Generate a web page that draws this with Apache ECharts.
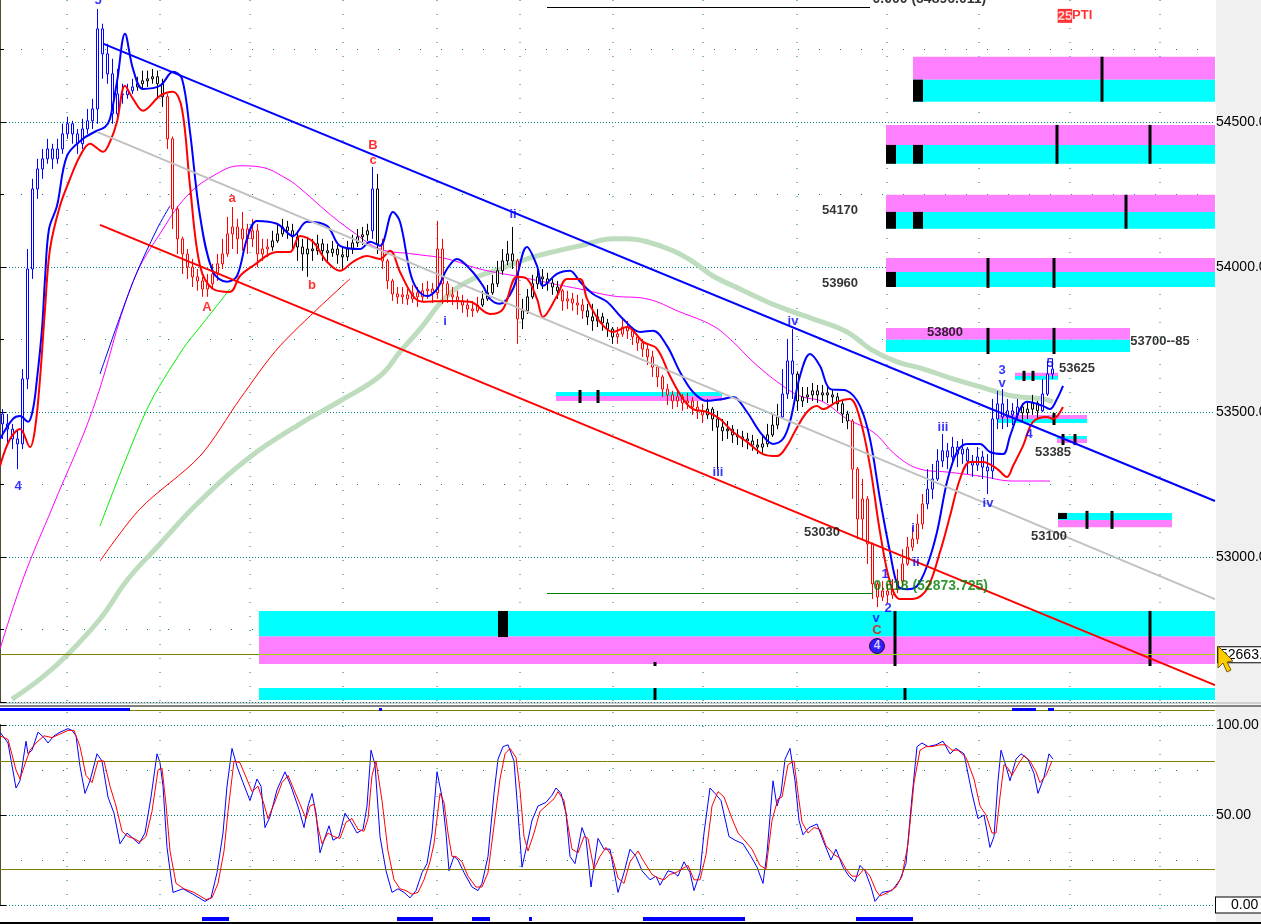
<!DOCTYPE html>
<html>
<head>
<meta charset="utf-8">
<script src="https://cdn.jsdelivr.net/npm/echarts/dist/echarts.min.js"></script>
<style>
html,body{margin:0;padding:0;background:#fff;overflow:hidden}
#main{width:1261px;height:924px}
</style>
</head>
<body>
<div id="main"></div>
<script>
// 5 minute bars: [open, close, low, high]
var bars = [
[53493,53459,53407,53510],[53459,53441,53390,53493],[53441,53407,53372,53459],[53407,53390,53303,53441],
[53390,53614,53372,53648],[53614,53993,53579,54062],[53993,54269,53959,54304],[54269,54338,54235,54373],
[54338,54373,54304,54407],[54373,54407,54356,54442],[54407,54373,54338,54425],[54373,54407,54356,54442],
[54407,54459,54390,54494],[54459,54494,54442,54518],[54494,54459,54425,54504],[54459,54425,54390,54476],
[54425,54476,54407,54511],[54476,54504,54459,54545],[54504,54545,54476,54580],[54545,54821,54494,54890],
[54821,54735,54649,54839],[54735,54666,54632,54770],[54666,54528,54494,54718],[54528,54597,54511,54683],
[54597,54594,54563,54632],[54594,54608,54580,54632],[54608,54621,54597,54649],[54621,54632,54608,54656],
[54632,54642,54614,54677],[54642,54649,54621,54677],[54649,54656,54632,54683],[54656,54632,54580,54677],
[54632,54587,54552,54649],[54587,54442,54407,54597],[54442,54200,54131,54450],[54200,54097,54045,54210],
[54097,54045,53976,54105],[54045,54000,53959,54062],[54000,53966,53931,54028],[53966,53952,53918,53993],
[53952,53924,53897,53966],[53924,53942,53897,53976],[53942,53976,53924,54011],[53976,54011,53952,54045],
[54011,54045,53993,54097],[54045,54114,54035,54173],[54114,54138,54062,54207],[54138,54097,54045,54166],
[54097,54131,54056,54190],[54131,54097,54045,54149],[54097,54125,54069,54166],[54125,54045,54000,54149],
[54045,54062,54021,54097],[54062,54069,54035,54097],[54069,54090,54056,54125],[54090,54114,54083,54145],
[54114,54138,54104,54166],[54138,54125,54097,54159],[54125,54104,54056,54149],[54104,54069,54021,54125],
[54069,54045,53987,54097],[54045,54062,53966,54104],[54062,54056,54021,54097],[54056,54080,54042,54111],
[54080,54056,54021,54097],[54056,54049,54021,54080],[54049,54062,54035,54090],[54062,54042,54011,54076],
[54042,54035,53993,54069],[54035,54062,54021,54090],[54062,54083,54045,54111],[54083,54104,54069,54131],
[54104,54111,54076,54138],[54111,54125,54090,54149],[54125,54269,54097,54345],[54269,54080,54045,54321],
[54080,54021,53993,54097],[54021,53952,53924,54028],[53952,53907,53883,53959],[53907,53897,53873,53931],
[53897,53904,53873,53931],[53904,53890,53869,53924],[53890,53911,53876,53938],[53911,53897,53862,53931],
[53897,53918,53883,53945],[53918,53924,53890,53952],[53924,53911,53876,53945],[53911,54062,53890,54159],
[54062,53942,53873,54097],[53942,53904,53876,53952],[53904,53897,53869,53931],[53897,53883,53855,53918],
[53883,53869,53842,53904],[53869,53855,53828,53890],[53855,53849,53828,53883],[53849,53869,53842,53897],
[53869,53890,53862,53918],[53890,53911,53883,53938],[53911,53942,53904,53973],[53942,53987,53931,54021],
[53987,54021,53973,54062],[54021,54045,54007,54090],[54045,54021,53993,54138],[54021,53821,53735,54028],
[53821,53849,53786,53890],[53849,53897,53838,53924],[53897,53942,53890,53973],[53942,53966,53924,54000],
[53966,53959,53924,53993],[53959,53945,53918,53980],[53945,53931,53904,53959],[53931,53918,53890,53952],
[53918,53883,53849,53924],[53883,53890,53855,53918],[53890,53876,53849,53911],[53876,53869,53835,53904],
[53869,53849,53821,53890],[53849,53828,53800,53873],[53828,53814,53780,53873],[53814,53828,53793,53855],
[53828,53807,53780,53842],[53807,53786,53759,53821],[53786,53759,53735,53793],[53759,53769,53735,53793],
[53769,53793,53759,53821],[53793,53780,53752,53814],[53780,53759,53731,53793],[53759,53738,53711,53766],
[53738,53717,53690,53752],[53717,53690,53662,53731],[53690,53655,53621,53711],[53655,53621,53586,53662],
[53621,53579,53552,53628],[53579,53559,53524,53597],[53559,53538,53510,53573],[53538,53552,53517,53579],
[53552,53531,53504,53562],[53531,53538,53510,53566],[53538,53517,53490,53552],[53517,53504,53476,53538],
[53504,53490,53462,53528],[53490,53510,53476,53545],[53510,53476,53435,53517],[53476,53448,53303,53504],
[53448,53435,53400,53476],[53435,53441,53407,53469],[53441,53421,53393,53455],[53421,53414,53386,53441],
[53414,53407,53379,53435],[53407,53400,53372,53428],[53400,53386,53366,53421],[53386,53379,53355,53407],
[53379,53390,53359,53421],[53390,53421,53379,53459],[53421,53455,53414,53493],[53455,53483,53441,53528],
[53483,53562,53476,53648],[53562,53676,53545,53752],[53676,53631,53545,53786],[53631,53538,53504,53640],
[53538,53552,53517,53586],[53552,53559,53531,53586],[53559,53573,53538,53600],[53573,53559,53531,53593],
[53559,53566,53538,53593],[53566,53559,53531,53586],[53559,53552,53524,53579],[53552,53528,53504,53566],
[53528,53493,53462,53538],[53493,53469,53441,53504],[53469,53303,53200,53476],[53303,53131,53062,53310],
[53131,53200,53062,53269],[53200,53045,52976,53210],[53045,52907,52855,53050],[52907,52862,52827,52915],
[52862,52883,52848,52917],[52883,52869,52841,52907],[52869,52889,52855,52924],[52889,52917,52876,52958],
[52917,52976,52896,53027],[52976,53034,52970,53069],[53034,53062,53021,53103],[53062,53114,53045,53148],
[53114,53183,53096,53217],[53183,53234,53165,53303],[53234,53269,53200,53321],[53269,53331,53262,53372],
[53331,53366,53310,53424],[53366,53345,53303,53393],[53345,53379,53317,53414],[53379,53355,53310,53400],
[53355,53372,53321,53407],[53372,53331,53286,53379],[53331,53317,53276,53352],[53317,53345,53297,53379],
[53345,53310,53269,53366],[53310,53297,53217,53355],[53297,53476,53269,53545],[53476,53528,53441,53573],
[53528,53483,53441,53579],[53483,53504,53448,53545],[53504,53490,53455,53531],[53490,53517,53476,53545],
[53517,53497,53469,53531],[53497,53510,53476,53538],[53510,53531,53490,53559],[53531,53504,53476,53538],
[53504,53562,53500,53614],[53562,53631,53555,53676],[53631,53648,53614,53683]
];
// trend state per bar range [from, to, state]
var trendRuns = [
[0,26,'up'],[27,32,'flat'],[33,53,'down'],[54,73,'flat'],[74,74,'up'],[75,75,'flat'],
[76,95,'down'],[96,102,'flat'],[103,103,'down'],[104,111,'flat'],[112,116,'down'],[117,122,'flat'],
[123,140,'down'],[141,155,'flat'],[156,158,'up'],[159,169,'flat'],[170,184,'down'],[185,203,'up'],
[204,207,'flat'],[208,210,'up']
];
var sessionMinutes = 1215;
var barMinutes = 5;

// overlays: [minute, price]
var upperBand = [[0,53407],[13,53476],[20,53486],[28,53466],[33,53510],[37,53614],[42,53786],[45,53959],[49,54131],
[57,54211],[67,54383],[83,54442],[97,54470],[105,54483],[110,54511],[117,54639],[125,54804],[133,54683],[143,54614],
[160,54625],[173,54673],[182,54649],[190,54466],[200,54176],[213,53983],[227,53949],[237,53969],[247,54097],[257,54159],
[277,54149],[293,54107],[307,54156],[327,54142],[340,54073],[360,54062],[370,54087],[380,54073],[393,54190],[400,54156],
[410,53983],[417,53924],[427,53900],[437,53924],[447,53993],[457,54028],[470,53993],[483,53935],[490,53890],[500,53873],
[513,53924],[527,54069],[537,54004],[543,53935],[557,53976],[570,53987],[580,53949],[593,53907],[607,53880],[623,53821],
[640,53776],[653,53780],[667,53728],[680,53638],[693,53569],[707,53538],[723,53545],[733,53552],[747,53500],[760,53431],
[773,53390],[783,53407],[790,53466],[800,53624],[810,53700],[820,53659],[830,53580],[847,53573],[860,53521],[870,53407],
[880,53200],[890,53017],[898,52900],[907,52889],[917,52900],[927,52969],[937,53086],[947,53259],[957,53362],[967,53390],
[980,53390],[990,53362],[1003,53355],[1010,53417],[1020,53510],[1027,53535],[1043,53521],[1050,53510],[1057,53545],[1063,53590]];
var lowerBand = [[0,53314],[10,53407],[20,53441],[30,53379],[35,53441],[40,53614],[45,53855],[50,54062],[60,54211],
[70,54304],[80,54383],[90,54425],[103,54397],[110,54432],[117,54501],[125,54625],[133,54580],[143,54539],[160,54590],
[173,54604],[182,54545],[190,54280],[200,54004],[213,53924],[230,53914],[240,53969],[253,54004],[277,54052],[290,54052],
[300,54107],[313,54087],[327,54018],[340,53987],[353,54018],[367,54038],[380,54028],[390,54056],[400,53983],[413,53900],
[423,53880],[447,53883],[470,53880],[490,53838],[503,53855],[517,53966],[527,53959],[537,53890],[543,53828],[557,53900],
[567,53959],[580,53959],[587,53890],[600,53811],[613,53776],[627,53793],[643,53742],[657,53718],[670,53624],[683,53545],
[693,53510],[707,53500],[720,53476],[733,53431],[747,53397],[763,53355],[777,53348],[787,53383],[795,53434],[807,53500],
[817,53521],[823,53510],[837,53535],[850,53545],[860,53476],[870,53314],[880,53086],[890,52914],[900,52855],[913,52855],
[927,52890],[940,53017],[950,53141],[960,53269],[970,53328],[983,53328],[997,53304],[1007,53276],[1013,53314],[1023,53383],
[1033,53466],[1047,53483],[1053,53476],[1063,53517]];
var maMid = [[0,52683],[23,52924],[53,53176],[93,53511],[133,53949],[163,54131],[187,54245],[213,54314],[240,54349],
[260,54345],[287,54304],[303,54263],[327,54190],[353,54121],[380,54062],[413,54045],[447,54028],[480,53993],[520,53966],
[553,53942],[580,53924],[613,53900],[647,53890],[680,53845],[713,53797],[733,53742],[753,53673],[780,53597],[800,53555],
[823,53535],[847,53476],[873,53431],[897,53348],[920,53303],[947,53293],[980,53279],[1013,53262],[1050,53262]];
var maSlow = [[12,52510],[40,52579],[68,52665],[100,52786],[128,52924],[160,53045],[197,53183],[250,53345],[300,53459],
[340,53538],[380,53624],[400,53707],[420,53786],[447,53900],[473,53959],[500,53993],[527,54028],[553,54052],[580,54073],
[613,54097],[627,54097],[647,54087],[673,54056],[693,54018],[713,53969],[740,53924],[767,53880],[793,53845],[813,53821],
[847,53776],[870,53718],[897,53673],[923,53649],[953,53614],[987,53580],[1013,53555],[1043,53545],[1053,53535]];
var riseBlue = [[100,53631],[133,53949],[157,54131],[170,54211]];
var riseGreen = [[100,53107],[147,53510],[183,53718],[200,53793],[230,53924]];
var riseRed = [[100,52986],[140,53166],[200,53348],[240,53545],[280,53728],[350,53959]];
var channelTop = [[103,54770],[1215,53193]];
var channelMid = [[97,54466],[1215,52855]];
var channelBottom = [[100,54145],[1215,52558]];

// zones: [from, to, magentaTop, magentaBottom, cyanTop, cyanBottom]
var zones = [
[913,1215,54725,54646,54646,54570],[886,1215,54490,54421,54421,54356],[886,1215,54249,54190,54190,54132],
[886,1215,54031,53983,53983,53931],[886,1130,53790,53749,53749,53707],[1015,1058,53635,53624,53624,53611],
[998,1087,53490,53476,53476,53462],[1057,1087,53407,53393,53417,53407],[1058,1172,53128,53103,53152,53128],
[556,722,53555,53538,53569,53555],[259,1215,52727,52631,52814,52727],[259,1215,null,null,52548,52507]
];
var zoneBlocks = [[913,923,54646,54570],[886,896,54421,54356],[913,923,54421,54356],[886,896,54190,54132],
[913,923,54190,54132],[886,896,53983,53931],[1058,1067,53152,53131],[498,508,52814,52724]];
var zoneTicks = [[1102,54725,54570],[1057,54490,54356],[1150,54490,54356],[1126,54249,54132],[988,54031,53928],
[1054,54031,53928],[988,53790,53700],[1054,53790,53700],[1024,53642,53607],[1033,53642,53607],[1054,53497,53455],
[1063,53424,53386],[1075,53424,53386],[1087,53159,53097],[1112,53159,53097],[580,53576,53531],[598,53576,53531],
[895,52814,52624],[1150,52814,52624],[655,52638,52624],[655,52548,52507],[905,52548,52507]];
var lastPrice = 52663;
var fibTop = {from:547, to:870, price:54896.011, text:'0.000 (54896.011)'};
var fibMid = {from:547, to:873, price:52873.725, text:'0.618 (52873.725)'};

// wave counts [minute, price, text, degree]
var waveLabels = [[98,54918,'5','minor'],[18,53245,'4','minor'],[207,53862,'A','major'],[232,54235,'a','major'],
[312,53935,'b','major'],[373,54418,'B','major'],[373,54366,'c','major'],[445,53811,'i','minor'],[513,54183,'ii','minor'],
[718,53290,'iii','minor'],[793,53811,'iv','minor'],[876,52789,'v','minor'],[877,52748,'C','major'],[888,52821,'2','minor'],
[885,52941,'1','minor'],[913,53097,'i','minor'],[916,52983,'ii','minor'],[943,53448,'iii','minor'],[988,53186,'iv','minor'],
[1002,53645,'3','minor'],[1002,53600,'v','minor'],[1029,53421,'4','minor'],[1050,53669,'5','minor']];
var wave4Circle = [877,52693];
var levelNotes = [[840,54194,'54170'],[840,53942,'53960'],[945,53776,'53800'],[1160,53745,'53700--85'],
[1077,53649,'53625'],[1053,53359,'53385'],[822,53086,'53030'],[1049,53072,'53100']];
var ptiNote = [1075,54866];

// stochastic [minute, value]
var stochK = [[0,96],[8,90],[16,65],[20,69],[26,91],[28,84],[32,86],[38,96],[44,93],[48,90],[54,94],[60,96],[68,98],[72,97],
[76,94],[80,77],[85,62],[90,69],[97,84],[102,80],[108,60],[114,51],[120,34],[127,40],[133,37],[139,34],[145,40],[151,60],
[157,84],[160,79],[163,66],[167,32],[173,7],[183,9],[193,6],[205,2],[211,4],[217,18],[223,40],[227,66],[232,87],[237,77],
[243,68],[250,58],[257,70],[261,66],[265,43],[270,49],[277,64],[285,74],[291,66],[299,53],[304,43],[308,55],[312,62],
[316,51],[320,29],[324,36],[329,44],[333,36],[339,38],[345,51],[351,46],[357,40],[363,42],[367,55],[371,86],[375,78],
[380,38],[386,19],[392,7],[398,9],[404,7],[410,4],[416,8],[422,18],[427,23],[432,40],[437,74],[442,60],[446,40],[449,19],
[454,27],[458,25],[464,18],[472,10],[478,8],[482,12],[488,27],[494,62],[498,81],[503,88],[508,89],[514,80],[518,51],
[522,21],[526,31],[532,47],[538,55],[546,57],[552,61],[556,65],[561,62],[566,51],[570,27],[575,23],[582,43],[586,37],
[591,10],[598,37],[604,31],[610,31],[614,19],[618,7],[624,18],[630,31],[636,27],[642,19],[650,14],[656,16],[660,11],
[668,19],[674,18],[678,16],[684,24],[690,18],[694,8],[700,18],[704,40],[710,65],[715,62],[721,58],[729,38],[735,36],
[743,34],[751,27],[757,21],[763,12],[767,29],[773,69],[777,55],[781,62],[785,81],[790,87],[795,69],[799,47],[803,39],
[809,43],[817,45],[823,36],[831,25],[836,31],[843,21],[849,16],[855,13],[860,22],[865,19],[871,10],[875,2],[882,7],
[892,8],[900,14],[906,23],[912,60],[917,88],[922,90],[928,88],[936,89],[943,91],[950,84],[956,87],[964,84],[972,62],
[978,48],[984,50],[990,32],[994,38],[998,69],[1001,86],[1006,77],[1010,69],[1016,81],[1021,84],[1028,81],[1034,73],
[1038,62],[1044,71],[1049,84],[1053,81]];
var stochD = [[0,94],[8,92],[16,75],[20,70],[26,80],[30,86],[36,90],[44,94],[52,93],[60,95],[68,97],[74,97],[80,88],
[86,72],[92,68],[98,80],[104,80],[110,66],[116,55],[122,41],[128,38],[134,37],[140,35],[146,38],[152,52],[158,75],
[162,76],[166,56],[170,30],[176,12],[184,9],[194,7],[206,3],[212,4],[218,12],[224,30],[228,52],[234,80],[240,79],
[246,71],[252,63],[258,66],[264,56],[268,48],[274,56],[282,68],[288,72],[294,64],[300,56],[306,48],[310,55],[314,56],
[318,43],[322,34],[328,40],[334,38],[340,37],[346,46],[352,48],[358,42],[364,41],[368,48],[372,72],[376,80],[382,58],
[388,30],[394,14],[400,9],[406,8],[412,6],[418,7],[424,14],[430,24],[434,34],[440,62],[444,57],[448,40],[452,27],
[456,27],[462,24],[468,16],[476,10],[482,10],[488,18],[494,44],[500,70],[505,84],[510,87],[516,82],[520,64],[524,38],
[528,30],[534,40],[540,52],[548,56],[554,59],[558,63],[564,58],[568,44],[572,31],[578,29],[584,38],[588,37],[594,20],
[600,27],[606,32],[612,27],[618,15],[624,12],[630,24],[638,30],[644,24],[652,17],[658,15],[664,14],[670,17],[676,18],
[682,20],[688,22],[694,14],[700,14],[706,28],[712,55],[718,63],[724,60],[732,48],[738,40],[746,35],[752,31],[760,22],
[766,20],[772,47],[778,59],[782,60],[788,78],[794,80],[798,62],[802,46],[808,40],[814,43],[820,42],[826,33],[834,28],
[840,26],[846,20],[852,16],[858,16],[864,20],[870,16],[876,8],[880,5],[888,7],[896,10],[902,16],[908,34],[914,68],
[920,86],[926,88],[932,88],[940,89],[946,89],[952,86],[958,86],[966,82],[974,70],[980,55],[986,50],[992,40],[996,40],
[1000,60],[1004,78],[1008,76],[1012,72],[1018,78],[1024,83],[1030,80],[1036,74],[1040,68],[1046,72],[1052,80]];
var stochLevels = [20, 80];
// signal strips [from, to, row] row 0 = above oscillator, 1 = below
var signals = [[0,130,0],[379,382,0],[1012,1036,0],[1048,1054,0],
[202,229,1],[397,433,1],[472,490,1],[529,532,1],[643,745,1],[856,913,1]];
var timeGrid = [67,160,250,343,437,520,613,703,797,887,979,1070,1160];

var BLUE = '#0000ff', RED = '#ff0000', MAG = '#ff80ff', CYAN = '#00ffff', TEAL = '#008080';
var trendColor = {up: BLUE, down: RED, flat: '#000000'};

function stateOf(i) {
  for (var k = 0; k < trendRuns.length; k++) {
    if (i >= trendRuns[k][0] && i <= trendRuns[k][1]) return trendRuns[k][2];
  }
  return 'flat';
}
var slots = [];
for (var s = 0; s < sessionMinutes / barMinutes; s++) slots.push(String(s));
var candleData = bars.map(function (b, i) {
  var c = trendColor[stateOf(i)];
  return {value: b, itemStyle: {color: '#ffffff', color0: c, borderColor: c, borderColor0: c}};
});

var zoneData = [];
zones.forEach(function (z) {
  if (z[2] != null) zoneData.push({value: [z[0], z[1], z[2], z[3]], itemStyle: {color: MAG}});
  if (z[4] != null) zoneData.push({value: [z[0], z[1], z[4], z[5]], itemStyle: {color: CYAN}});
});
zoneBlocks.forEach(function (b) { zoneData.push({value: b, itemStyle: {color: '#000'}}); });

function boxItem(params, api) {
  var a = api.coord([api.value(0), api.value(2)]);
  var b = api.coord([api.value(1), api.value(3)]);
  return {type: 'rect', shape: {x: a[0], y: a[1], width: b[0] - a[0], height: b[1] - a[1]},
    style: {fill: api.visual('color')}};
}
function tickItem(params, api) {
  var a = api.coord([api.value(0), api.value(1)]);
  var b = api.coord([api.value(0), api.value(2)]);
  return {type: 'rect', shape: {x: a[0] - 1.5, y: a[1], width: 3, height: b[1] - a[1]}, style: {fill: '#000'}};
}
function gridColumn(top, bottom) {
  return function (params, api) {
    var cs = params.coordSys;
    var x = api.coord([api.value(0), 0])[0];
    return {type: 'line', shape: {x1: x, y1: top, x2: x, y2: bottom},
      style: {stroke: TEAL, lineWidth: 1, lineDash: [1, 13]}};
  };
}
function signalItem(params, api) {
  var cs = params.coordSys;
  var a = api.coord([api.value(0), 0]);
  var b = api.coord([api.value(1), 0]);
  var row = api.value(2);
  var y = row === 0 ? cs.y - 17 : cs.y + cs.height + 12;
  return {type: 'rect', shape: {x: a[0], y: y, width: Math.max(b[0] - a[0], 2), height: row === 0 ? 3 : 4},
    style: {fill: BLUE}};
}
function lineSeries(data, color, width, z, smooth) {
  return {type: 'line', xAxisIndex: 1, yAxisIndex: 0, data: data, showSymbol: false, symbol: 'none',
    smooth: smooth, z: z, silent: true, lineStyle: {color: color, width: width}};
}

var waveData = waveLabels.map(function (w) {
  return {value: [w[0], w[1]], name: w[2],
    label: {color: w[3] === 'major' ? RED : BLUE}};
});
var noteData = levelNotes.map(function (n) { return {value: [n[0], n[1]], name: n[2]}; });

var chart = echarts.init(document.getElementById('main'));
chart.setOption({
  animation: false,
  backgroundColor: '#ffffff',
  textStyle: {fontFamily: 'Arial'},
  grid: [
    {left: 0, right: 46, top: -23, height: 725, containLabel: false, outerBoundsMode: 'none'},
    {left: 0, right: 46, top: 725, height: 180, containLabel: false, outerBoundsMode: 'none'}
  ],
  xAxis: [
    {type: 'category', gridIndex: 0, data: slots, show: false, boundaryGap: true},
    {type: 'value', gridIndex: 0, min: 0, max: sessionMinutes, show: false},
    {type: 'value', gridIndex: 1, min: 0, max: sessionMinutes, show: false}
  ],
  yAxis: [
    {type: 'value', gridIndex: 0, position: 'right', min: 52500, max: 55000, interval: 500,
      axisLine: {show: true, lineStyle: {color: '#4d4d33', width: 2}},
      axisTick: {show: true, length: 6, lineStyle: {color: '#000'}},
      minorTick: {show: true, splitNumber: 2, length: 4, lineStyle: {color: '#000'}},
      axisLabel: {color: '#000', fontSize: 14, margin: 1, showMinLabel: false, showMaxLabel: false,
        formatter: function (v) { return v.toFixed(2); }},
      splitLine: {show: true, lineStyle: {color: TEAL, type: [1, 2], width: 1}},
      minorSplitLine: {show: true, lineStyle: {color: TEAL, type: [1, 20], width: 1}}},
    {type: 'value', gridIndex: 1, position: 'right', min: 0, max: 100, interval: 50,
      axisLine: {show: true, lineStyle: {color: '#4d4d33', width: 2}},
      axisTick: {show: true, length: 6, lineStyle: {color: '#000'}},
      axisLabel: {color: '#000', fontSize: 14, margin: 1,
        formatter: function (v) { return v === 0 ? '{box|0.00}' : v.toFixed(2); },
        rich: {box: {fontSize: 14, color: '#000', backgroundColor: '#ffffff', borderColor: '#000', borderWidth: 1,
          padding: [1, 12, 0, 15]}}},
      splitLine: {show: true, lineStyle: {color: TEAL, type: [1, 2], width: 1}},
      minorTick: {show: false, splitNumber: 2},
      minorSplitLine: {show: true, lineStyle: {color: TEAL, type: [1, 20], width: 1}}}
  ],
  graphic: {elements: [
    {type: 'rect', z: -1, shape: {x: 1216, y: 0, width: 45, height: 924}, style: {fill: '#f0f0f0'}},
    {type: 'rect', shape: {x: 0, y: 702, width: 1261, height: 2}, style: {fill: '#d0d0d0'}},
    {type: 'rect', shape: {x: 0, y: 705, width: 1261, height: 2}, style: {fill: '#808080'}},
    {type: 'rect', shape: {x: 0, y: 710, width: 1215, height: 1}, style: {fill: '#808000'}},
    {type: 'rect', shape: {x: 0, y: 922, width: 1261, height: 2}, style: {fill: '#000'}},
    {type: 'polygon', z: 100, shape: {points: [[1218, 646], [1218, 668], [1223, 663], [1227, 672], [1231, 670],
      [1227, 662], [1233, 661]]}, style: {fill: '#ffcc00', stroke: '#7a5c00', lineWidth: 1}}
  ]},
  series: [
    {type: 'custom', xAxisIndex: 1, yAxisIndex: 0, data: timeGrid.map(function (t) { return [t]; }),
      renderItem: gridColumn(0, 701), silent: true, z: 0, clip: false},
    {type: 'custom', xAxisIndex: 2, yAxisIndex: 1, data: timeGrid.map(function (t) { return [t]; }),
      renderItem: gridColumn(712, 920), silent: true, z: 0, clip: false},
    {type: 'custom', xAxisIndex: 1, yAxisIndex: 0, data: zoneData, renderItem: boxItem, silent: true, z: 1, clip: true},
    {type: 'custom', xAxisIndex: 1, yAxisIndex: 0, data: zoneTicks, renderItem: tickItem, silent: true, z: 1, clip: true},
    lineSeries(maSlow, '#bedcbe', 5, 2, 0.4),
    lineSeries(maMid, '#ff00ff', 1, 3, 0.4),
    lineSeries(riseBlue, BLUE, 1, 3, 0.3),
    lineSeries(riseGreen, '#00ee00', 1, 3, 0.3),
    lineSeries(riseRed, RED, 1, 3, 0.3),
    {type: 'candlestick', xAxisIndex: 0, yAxisIndex: 0, data: candleData, barWidth: 3, z: 4, silent: true,
      markLine: {silent: true, symbol: 'none', animation: false,
        lineStyle: {color: '#808000', width: 1, type: 'solid'},
        label: {show: true, position: 'end', distance: 3, color: '#000', fontSize: 14, backgroundColor: '#ffffff',
          borderColor: '#000', borderWidth: 1, padding: [1, 2, 0, 2],
          formatter: function () { return lastPrice.toFixed(2); }},
        data: [{yAxis: lastPrice}]}},
    {type: 'line', xAxisIndex: 1, yAxisIndex: 0, data: [], z: 4, silent: true,
      markLine: {silent: true, symbol: 'none', label: {show: false}, animation: false,
        data: [
          [{coord: [259, lastPrice], lineStyle: {color: '#99dd00', width: 1, type: 'solid'}}, {coord: [sessionMinutes, lastPrice]}],
          [{coord: [fibTop.from, fibTop.price], lineStyle: {color: '#000', width: 1, type: 'solid'}}, {coord: [fibTop.to, fibTop.price]}],
          [{coord: [fibMid.from, fibMid.price], lineStyle: {color: '#008000', width: 1, type: 'solid'}}, {coord: [fibMid.to, fibMid.price]}]
        ]}},
    lineSeries(upperBand, BLUE, 2, 5, 0.35),
    lineSeries(lowerBand, RED, 2, 5, 0.35),
    lineSeries(channelMid, '#c0c0c0', 2, 6, false),
    lineSeries(channelTop, BLUE, 2, 6, false),
    lineSeries(channelBottom, RED, 2, 6, false),
    {type: 'scatter', xAxisIndex: 1, yAxisIndex: 0, data: waveData, symbolSize: 1, z: 8, silent: true, clip: false,
      itemStyle: {color: 'rgba(0,0,0,0)'},
      label: {show: true, position: 'inside', fontSize: 13, fontWeight: 'bold', formatter: '{b}'}},
    {type: 'scatter', xAxisIndex: 1, yAxisIndex: 0, data: noteData, symbolSize: 1, z: 8, silent: true, clip: false,
      itemStyle: {color: 'rgba(0,0,0,0)'},
      label: {show: true, position: 'inside', fontSize: 13, fontWeight: 'bold', color: '#000', formatter: '{b}'}},
    {type: 'scatter', xAxisIndex: 1, yAxisIndex: 0, z: 8, silent: true, clip: false, symbolSize: 1,
      itemStyle: {color: 'rgba(0,0,0,0)'},
      data: [
        {value: [fibMid.to, fibMid.price], name: fibMid.text,
          label: {color: '#008000', fontSize: 14, fontWeight: 'bold', position: 'right', distance: 0, offset: [0, -7]}},
        {value: [fibTop.to + 2, fibTop.price], name: fibTop.text,
          label: {color: '#000', fontSize: 14, fontWeight: 'bold', position: 'right', distance: 0, offset: [0, -8]}},
        {value: ptiNote, name: 'pti',
          label: {position: 'inside', formatter: '{a|25}{b|PTI}',
            rich: {a: {color: '#fff', backgroundColor: RED, fontSize: 13, fontWeight: 'bold', padding: [1, 0, 0, 0]},
              b: {color: RED, fontSize: 13, fontWeight: 'bold'}}}}
      ],
      label: {show: true, formatter: '{b}'}},
    {type: 'scatter', xAxisIndex: 1, yAxisIndex: 0, z: 9, silent: true, data: [wave4Circle], symbol: 'circle',
      symbolSize: 15, itemStyle: {color: BLUE, borderColor: '#000', borderWidth: 1},
      label: {show: true, position: 'inside', formatter: '4', color: '#fff', fontSize: 12, fontWeight: 'bold'}},
    {type: 'line', xAxisIndex: 2, yAxisIndex: 1, data: stochK, showSymbol: false, symbol: 'none', z: 4, silent: true,
      lineStyle: {color: BLUE, width: 1},
      markLine: {silent: true, symbol: 'none', label: {show: false}, animation: false,
        lineStyle: {color: '#808000', width: 1, type: 'solid'},
        data: stochLevels.map(function (v) { return {yAxis: v}; })}},
    {type: 'line', xAxisIndex: 2, yAxisIndex: 1, data: stochD, showSymbol: false, symbol: 'none', z: 5, silent: true,
      lineStyle: {color: RED, width: 1}},
    {type: 'custom', xAxisIndex: 2, yAxisIndex: 1, data: signals, renderItem: signalItem, silent: true, z: 6, clip: false}
  ]
});
</script>
</body>
</html>
